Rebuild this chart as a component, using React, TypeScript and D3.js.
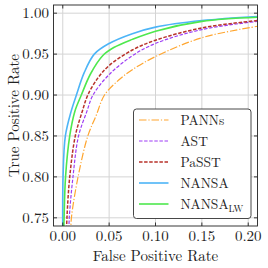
import * as d3 from "d3";
import { useEffect, useRef } from "react";

// ROC points (fpr, tpr)
const pannsFpr = [0.0085, 0.0093, 0.0165, 0.027, 0.036, 0.045, 0.06, 0.075, 0.1, 0.15, 0.21];
const pannsTpr = [0.73, 0.75, 0.8, 0.85, 0.875, 0.9, 0.918, 0.931, 0.947, 0.97, 0.984];

const astFpr = [0.0065, 0.007, 0.011, 0.017, 0.026, 0.0326, 0.05, 0.075, 0.1, 0.15, 0.21];
const astTpr = [0.73, 0.75, 0.8, 0.85, 0.88, 0.9, 0.925, 0.948, 0.963, 0.98, 0.99];

const passtFpr = [0.004, 0.0045, 0.0075, 0.0135, 0.021, 0.027, 0.038, 0.05, 0.075, 0.1, 0.15, 0.21];
const passtTpr = [0.73, 0.75, 0.8, 0.85, 0.88, 0.9, 0.921, 0.936, 0.955, 0.967, 0.982, 0.991];

const nansaFpr = [0, 0.0003, 0.0028, 0.009, 0.0147, 0.023, 0.034, 0.05, 0.075, 0.1, 0.15, 0.21];
const nansaTpr = [0.73, 0.8, 0.85, 0.88, 0.9, 0.927, 0.95, 0.963, 0.975, 0.983, 0.991, 0.996];

const nansaLwFpr = [0.001, 0.0014, 0.003, 0.0075, 0.013, 0.02, 0.03, 0.043, 0.055, 0.075, 0.1, 0.15, 0.21];
const nansaLwTpr = [0.73, 0.75, 0.8, 0.85, 0.88, 0.9, 0.926, 0.948, 0.958, 0.968, 0.978, 0.99, 0.995];

const xTicks = [0, 0.05, 0.1, 0.15, 0.2];
const yTicks = [0.75, 0.8, 0.85, 0.9, 0.95, 1.0];

const series = [
  { name: "PANNs", sub: "", fpr: pannsFpr, tpr: pannsTpr, color: "#ffa630", width: 1.2, dash: "7.5,1.9,1.2,1.9" },
  { name: "AST", sub: "", fpr: astFpr, tpr: astTpr, color: "#9d3df5", width: 1.2, dash: "3.5,1.6" },
  { name: "PaSST", sub: "", fpr: passtFpr, tpr: passtTpr, color: "#b8322a", width: 1.5, dash: "3.5,1.6" },
  { name: "NANSA", sub: "", fpr: nansaFpr, tpr: nansaTpr, color: "#4db5f7", width: 1.6, dash: null },
  { name: "NANSA", sub: "LW", fpr: nansaLwFpr, tpr: nansaLwTpr, color: "#4ee84e", width: 1.6, dash: null },
];

export default function App() {
  const width = 268;
  const height = 268;
  const left = 53.5;
  const right = 257.5;
  const top = 5;
  const bottom = 226;
  const font = `"Latin Modern Roman", "Liberation Serif", serif`;

  const svgRef = useRef<SVGSVGElement>(null);

  useEffect(() => {
    const svgEl = d3.select(svgRef.current);
    svgEl.selectAll("*").remove();

    const xScale = d3.scaleLinear([-0.01, 0.21], [left, right]);
    const yScale = d3.scaleLinear([0.74, 1.01], [bottom, top]);

    svgEl.append("clipPath").attr("id", "plot-clip")
      .append("rect")
      .attr("x", left).attr("y", top)
      .attr("width", right - left).attr("height", bottom - top);

    // grid
    const grid = svgEl.append("g").attr("stroke", "#d4d4d4").attr("stroke-width", 1);
    xTicks.forEach(t => {
      grid.append("line")
        .attr("x1", xScale(t)).attr("x2", xScale(t))
        .attr("y1", top).attr("y2", bottom);
    });
    yTicks.forEach(t => {
      grid.append("line")
        .attr("x1", left).attr("x2", right)
        .attr("y1", yScale(t)).attr("y2", yScale(t));
    });

    // curves
    const plot = svgEl.append("g").attr("clip-path", "url(#plot-clip)");
    series.forEach(s => {
      const pts: [number, number][] = s.fpr.map((f, i) => [f, s.tpr[i]]);
      const line = d3.line<[number, number]>(d => xScale(d[0]), d => yScale(d[1]))
        .curve(d3.curveCatmullRom.alpha(0.5));
      const p = plot.append("path")
        .attr("d", line(pts))
        .attr("fill", "none")
        .attr("stroke", s.color)
        .attr("stroke-width", s.width);
      if (s.dash) p.attr("stroke-dasharray", s.dash);
    });

    // frame and inward ticks
    svgEl.append("rect")
      .attr("x", left).attr("y", top)
      .attr("width", right - left).attr("height", bottom - top)
      .attr("fill", "none").attr("stroke", "#222").attr("stroke-width", 0.9);

    const ticks = svgEl.append("g").attr("stroke", "#222").attr("stroke-width", 0.9);
    const tl = 3.5;
    xTicks.forEach(t => {
      const x = xScale(t);
      ticks.append("line").attr("x1", x).attr("x2", x).attr("y1", bottom).attr("y2", bottom - tl);
      ticks.append("line").attr("x1", x).attr("x2", x).attr("y1", top).attr("y2", top + tl);
    });
    yTicks.forEach(t => {
      const y = yScale(t);
      ticks.append("line").attr("x1", left).attr("x2", left + tl).attr("y1", y).attr("y2", y);
      ticks.append("line").attr("x1", right).attr("x2", right - tl).attr("y1", y).attr("y2", y);
    });

    // tick labels
    const labels = svgEl.append("g")
      .style("font-family", font)
      .attr("font-size", 15)
      .attr("fill", "#222");
    xTicks.forEach(t => {
      labels.append("text")
        .attr("x", xScale(t)).attr("y", 241)
        .attr("text-anchor", "middle")
        .text(d3.format(".2f")(t));
    });
    yTicks.forEach(t => {
      labels.append("text")
        .attr("x", 49).attr("y", yScale(t) + 5)
        .attr("text-anchor", "end")
        .text(d3.format(".2f")(t));
    });

    // axis titles
    svgEl.append("text")
      .attr("x", (left + right) / 2).attr("y", 261)
      .attr("text-anchor", "middle")
      .style("font-family", font).attr("font-size", 15).attr("fill", "#222")
      .text("False Positive Rate");
    svgEl.append("text")
      .attr("transform", `translate(18.5, ${(top + bottom) / 2}) rotate(-90)`)
      .attr("text-anchor", "middle")
      .style("font-family", font).attr("font-size", 15).attr("fill", "#222")
      .text("True Positive Rate");

    // legend
    const lg = svgEl.append("g");
    lg.append("rect")
      .attr("x", 133.5).attr("y", 109)
      .attr("width", 117.5).attr("height", 109.5)
      .attr("rx", 3)
      .attr("fill", "white").attr("stroke", "#333").attr("stroke-width", 0.9);
    series.forEach((s, i) => {
      const y = 120 + i * 21;
      const l = lg.append("line")
        .attr("x1", 139).attr("x2", 168.5)
        .attr("y1", y).attr("y2", y)
        .attr("stroke", s.color).attr("stroke-width", s.width);
      if (s.dash) l.attr("stroke-dasharray", s.dash);
      const txt = lg.append("text")
        .attr("x", 180.5).attr("y", y + 5)
        .style("font-family", font).attr("font-size", 13.5).attr("fill", "#222")
        .text(s.name);
      if (s.sub) {
        txt.append("tspan")
          .attr("dy", 3).attr("font-size", 9.5)
          .text(s.sub);
      }
    });
  }, []);

  return (
    <svg
      ref={svgRef}
      width={width}
      height={height}
      style={{ position: "absolute", left: 0, top: 0, background: "white" }}
      xmlns="http://www.w3.org/2000/svg"
    >
    </svg>
  );
}
